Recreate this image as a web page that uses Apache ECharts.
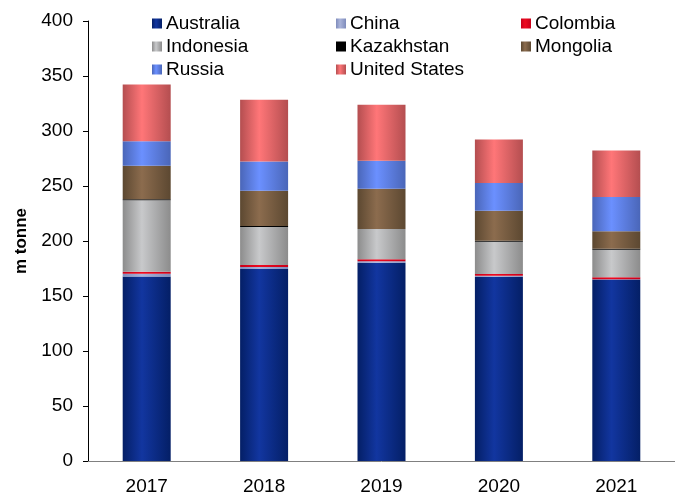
<!DOCTYPE html>
<html>
<head>
<meta charset="utf-8">
<script src="https://cdn.jsdelivr.net/npm/echarts@6/dist/echarts.min.js"></script>
<style>
  html, body { margin: 0; padding: 0; background: #fff; }
  #chart { width: 675px; height: 497px; }
</style>
</head>
<body>
<div id="chart"></div>
<script>
// years on the x axis
const years = ['2017', '2018', '2019', '2020', '2021'];

// exports by country, m tonne (stacked bottom to top)
const australia = [167.8, 174.5, 180.2, 167.5, 165.0];
const china = [2.4, 1.8, 1.5, 1.0, 0.3];
const colombia = [1.8, 1.8, 1.8, 1.6, 1.8];
const indonesia = [65.0, 34.6, 27.3, 29.2, 24.9];
const kazakhstan = [1.0, 1.0, 0.2, 1.0, 1.0];
const mongolia = [30.5, 31.9, 36.4, 27.3, 15.8];
const russia = [22.1, 26.7, 25.5, 25.2, 31.3];
const unitedStates = [51.7, 56.2, 51.0, 39.5, 42.2];

// y axis ticks
const yMin = 0;
const yMax = 400;
const yStep = 50;

const font = '"Liberation Sans", Arial, sans-serif';

// horizontal shading like the original bars
const shade = (edge, light) => ({
  type: 'linear', x: 0, y: 0, x2: 1, y2: 0,
  colorStops: [
    { offset: 0, color: edge },
    { offset: 0.4, color: light },
    { offset: 1, color: edge },
  ],
});

const seriesList = [
  { name: 'Australia', data: australia, color: shade('#041f66', '#1236a0') },
  { name: 'China', data: china, color: shade('#7f8cbc', '#aab4da') },
  { name: 'Colombia', data: colombia, color: shade('#c8001a', '#ee0a20') },
  { name: 'Indonesia', data: indonesia, color: shade('#8c8c8c', '#c8c9cb') },
  { name: 'Kazakhstan', data: kazakhstan, color: '#000000' },
  { name: 'Mongolia', data: mongolia, color: shade('#5c4831', '#8c6c4e') },
  { name: 'Russia', data: russia, color: shade('#4a66b8', '#6b90ff') },
  { name: 'United States', data: unitedStates, color: shade('#b44e50', '#ff7678') },
];

const legendCol = (names, left) => ({
  orient: 'vertical',
  left: left,
  top: 9,
  itemGap: 4,
  itemWidth: 10,
  itemHeight: 10,
  icon: 'rect',
  selectedMode: false,
  data: names,
  textStyle: { fontFamily: font, fontSize: 19, color: '#000', padding: [0, 0, 0, -1] },
});

const option = {
  animation: false,
  textStyle: { fontFamily: font },
  legend: [
    legendCol(['Australia', 'Indonesia', 'Russia'], 147),
    legendCol(['China', 'Kazakhstan', 'United States'], 331),
    legendCol(['Colombia', 'Mongolia'], 516),
  ],
  grid: { left: 88, right: 0, top: 21, bottom: 36 },
  xAxis: {
    type: 'category',
    data: years,
    axisLine: { lineStyle: { color: '#808080', width: 1 } },
    axisTick: { length: 5, lineStyle: { color: '#000' } },
    axisLabel: { color: '#000', fontSize: 19, margin: 16 },
  },
  yAxis: {
    type: 'value',
    min: yMin,
    max: yMax,
    interval: yStep,
    name: 'm tonne',
    nameLocation: 'middle',
    nameGap: 58,
    nameTextStyle: { fontFamily: font, fontSize: 17, fontWeight: 'bold', color: '#000' },
    axisLine: { show: true, lineStyle: { color: '#000', width: 1 } },
    axisTick: { show: true, length: 5, lineStyle: { color: '#000' } },
    axisLabel: { color: '#000', fontSize: 19, margin: 15 },
    splitLine: { show: false },
  },
  series: seriesList.map((s) => ({
    name: s.name,
    type: 'bar',
    stack: 'total',
    barWidth: 48,
    data: s.data,
    itemStyle: { color: s.color },
  })),
};

echarts.init(document.getElementById('chart')).setOption(option);
</script>
</body>
</html>
